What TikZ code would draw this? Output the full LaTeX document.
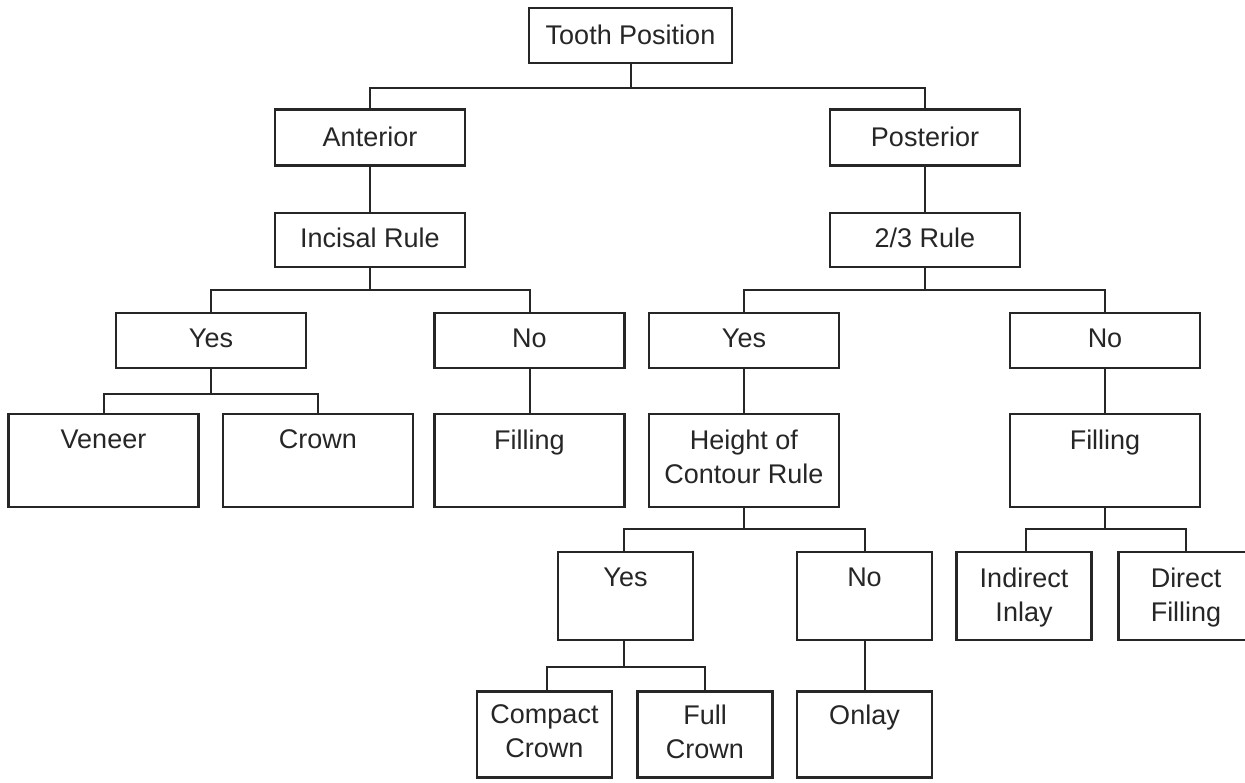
\documentclass[tikz,border=0pt]{standalone}
\usepackage{fontspec}
\setmainfont{Liberation Sans}
\begin{document}
\begin{tikzpicture}[x=1pt,y=-1pt,
  box/.style={draw=black!85, line width=2.4pt, inner sep=0pt, fill=white},
  wide/.style={box, minimum width=190pt},
  narrow/.style={box, minimum width=135pt},
  txt/.style={anchor=north, inner sep=0pt, align=center, text=black!85,
    font=\fontsize{27}{34}\selectfont},
  link/.style={draw=black!85, line width=2pt}]
\useasboundingbox (0,0) rectangle (1245,782);
% level 0
\node[box, minimum width=203pt, minimum height=55pt] (tp) at (630.5,35.5) {};
% level 1
\node[wide, minimum height=56pt] (ant) at (370,137.5) {};
\node[wide, minimum height=56pt] (post) at (925,137.5) {};
% level 2
\node[wide, minimum height=54pt] (inc) at (370,240) {};
\node[wide, minimum height=54pt] (two) at (925,240) {};
% level 3
\node[wide, minimum height=55pt] (yesL) at (211,340.5) {};
\node[wide, minimum height=55pt] (noL) at (529.5,340.5) {};
\node[wide, minimum height=55pt] (yesR) at (744,340.5) {};
\node[wide, minimum height=55pt] (noR) at (1105,340.5) {};
% level 4
\node[wide, minimum height=93pt] (ven) at (103.5,460.5) {};
\node[wide, minimum height=93pt] (crown) at (318,460.5) {};
\node[wide, minimum height=93pt] (fillL) at (529.5,460.5) {};
\node[wide, minimum height=93pt] (hoc) at (744,460.5) {};
\node[wide, minimum height=93pt] (fillR) at (1105,460.5) {};
% level 5
\node[narrow, minimum height=88pt] (yesB) at (625.5,596) {};
\node[narrow, minimum height=88pt] (noB) at (864.5,596) {};
\node[narrow, minimum height=88pt] (ind) at (1024,596) {};
\node[narrow, minimum height=88pt] (dir) at (1186,596) {};
% level 6
\node[narrow, minimum height=86pt] (comp) at (544.5,734.5) {};
\node[narrow, minimum height=86pt] (full) at (705,734.5) {};
\node[narrow, minimum height=86pt] (onlay) at (864.5,734.5) {};
% texts
\node[txt] (tp-t) at ([yshift=-18pt]tp.north) {Tooth Position};
\node[txt] (ant-t) at ([yshift=-18pt]ant.north) {Anterior};
\node[txt] (post-t) at ([yshift=-18pt]post.north) {Posterior};
\node[txt] (inc-t) at ([yshift=-16pt]inc.north) {Incisal Rule};
\node[txt] (two-t) at ([yshift=-16pt]two.north) {2/3 Rule};
\node[txt] (yesL-t) at ([yshift=-17pt]yesL.north) {Yes};
\node[txt] (noL-t) at ([yshift=-17pt]noL.north) {No};
\node[txt] (yesR-t) at ([yshift=-17pt]yesR.north) {Yes};
\node[txt] (noR-t) at ([yshift=-17pt]noR.north) {No};
\node[txt] (ven-t) at ([yshift=-17pt]ven.north) {Veneer};
\node[txt] (crown-t) at ([yshift=-17pt]crown.north) {Crown};
\node[txt] (fillL-t) at ([yshift=-17pt]fillL.north) {Filling};
\node[txt] (hoc-t) at ([yshift=-17pt]hoc.north) {Height of\\Contour Rule};
\node[txt] (fillR-t) at ([yshift=-17pt]fillR.north) {Filling};
\node[txt] (yesB-t) at ([yshift=-17pt]yesB.north) {Yes};
\node[txt] (noB-t) at ([yshift=-17pt]noB.north) {No};
\node[txt] (ind-t) at ([yshift=-17pt]ind.north) {Indirect\\Inlay};
\node[txt] (dir-t) at ([yshift=-17pt]dir.north) {Direct\\Filling};
\node[txt] (comp-t) at ([yshift=-14pt]comp.north) {Compact\\Crown};
\node[txt] (full-t) at ([yshift=-14pt]full.north) {Full\\Crown};
\node[txt] (onlay-t) at ([yshift=-14pt]onlay.north) {Onlay};
% connectors
\draw[link] (tp.south) -- ++(0,24) -| (ant.north);
\draw[link] (tp.south) -- ++(0,24) -| (post.north);
\draw[link] (ant.south) -- (inc.north);
\draw[link] (post.south) -- (two.north);
\draw[link] (inc.south) -- ++(0,22) -| (yesL.north);
\draw[link] (inc.south) -- ++(0,22) -| (noL.north);
\draw[link] (two.south) -- ++(0,22) -| (yesR.north);
\draw[link] (two.south) -- ++(0,22) -| (noR.north);
\draw[link] (yesL.south) -- ++(0,25) -| (ven.north);
\draw[link] (yesL.south) -- ++(0,25) -| (crown.north);
\draw[link] (noL.south) -- (fillL.north);
\draw[link] (yesR.south) -- (hoc.north);
\draw[link] (noR.south) -- (fillR.north);
\draw[link] (hoc.south) -- ++(0,21) -| ([xshift=-2pt]yesB.north);
\draw[link] (hoc.south) -- ++(0,21) -| (noB.north);
\draw[link] (fillR.south) -- ++(0,21) -| ([xshift=2pt]ind.north);
\draw[link] (fillR.south) -- ++(0,21) -| (dir.north);
\draw[link] ([xshift=-2pt]yesB.south) -- ++(0,26) -| ([xshift=2pt]comp.north);
\draw[link] ([xshift=-2pt]yesB.south) -- ++(0,26) -| (full.north);
\draw[link] (noB.south) -- (onlay.north);
\end{tikzpicture}
\end{document}
